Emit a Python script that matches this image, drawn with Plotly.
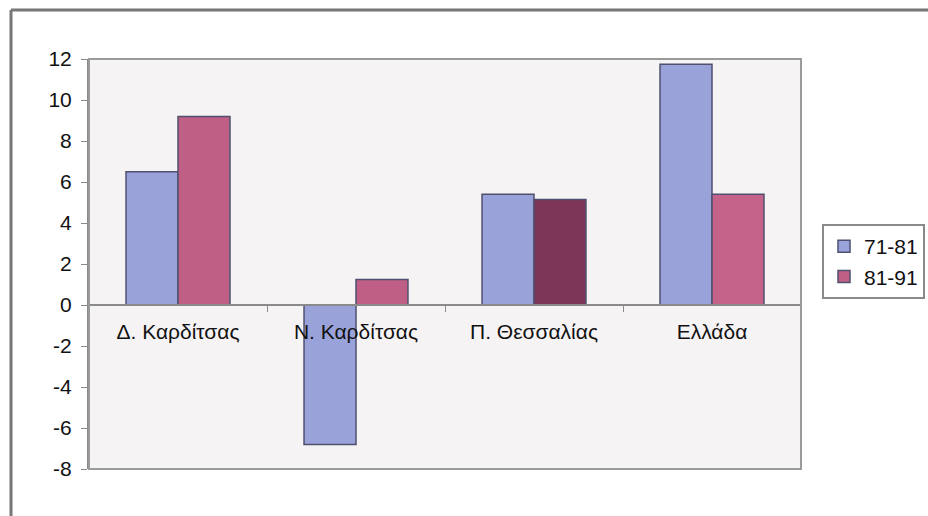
import plotly.graph_objects as go

categories = ["Δ. Καρδίτσας", "Ν. Καρδίτσας", "Π. Θεσσαλίας", "Ελλάδα"]
series_names = ["71-81", "81-91"]
values_7181 = [6.5, -6.8, 5.4, 11.75]
values_8191 = [9.2, 1.25, 5.15, 5.4]
colors_7181 = ["#9aa2da", "#9aa2da", "#9aa2da", "#9aa2da"]
colors_8191 = ["#bf5f85", "#bf5f85", "#7d3558", "#c4628a"]
y_ticks = [-8, -6, -4, -2, 0, 2, 4, 6, 8, 10, 12]
y_tick_labels = ["-8", "-6", "-4", "-2", "0", "2", "4", "6", "8", "10", "12"]
y_min, y_max = -8, 12

W, H = 928, 516
ml, mr, mt, mb = 89, 127, 59, 47
font_family = "Liberation Sans, Arial, sans-serif"
fs = 21

fig = go.Figure()
fig.add_trace(go.Bar(
    x=categories, y=values_7181, name=series_names[0],
    marker=dict(color=colors_7181, line=dict(color="#4f5070", width=1.5)),
))
fig.add_trace(go.Bar(
    x=categories, y=values_8191, name=series_names[1],
    marker=dict(color=colors_8191, line=dict(color="#4f5070", width=1.5)),
))

# x axis sits at y = 0 (Excel style)
zero_pos = (0 - y_min) / (y_max - y_min)
pw = W - ml - mr
ph = H - mt - mb

fig.update_layout(
    width=W, height=H,
    margin=dict(l=ml, r=mr, t=mt, b=mb, autoexpand=False),
    paper_bgcolor="white",
    plot_bgcolor="#f6f3f5",
    barmode="group",
    bargap=0.416,
    bargroupgap=0,
    font=dict(family=font_family, size=fs, color="#111111"),
    xaxis=dict(
        type="category",
        anchor="free", position=zero_pos,
        showline=True, linecolor="#8a8a8a", linewidth=2,
        ticks="outside", tickson="boundaries", ticklen=6, tickcolor="#8a8a8a",
        showgrid=False, zeroline=False,
        tickfont=dict(size=fs, color="#111111"),
        ticklabelstandoff=8,
    ),
    yaxis=dict(
        range=[y_min, y_max],
        tickvals=y_ticks, ticktext=y_tick_labels,
        showline=True, linecolor="#8a8a8a", linewidth=2,
        ticks="outside", ticklen=6, tickcolor="#8a8a8a",
        showgrid=False, zeroline=False,
        tickfont=dict(size=fs, color="#111111"),
        ticklabelstandoff=5,
    ),
    legend=dict(
        xref="container", yref="container",
        x=822 / W, y=1 - 224 / H, xanchor="left", yanchor="top",
        bgcolor="white", bordercolor="#8a8a8a", borderwidth=2,
        font=dict(size=fs, color="#111111"),
        itemwidth=30,
        tracegroupgap=0,
    ),
    shapes=[
        # plot area frame
        dict(type="rect", xref="paper", yref="paper", x0=0, x1=1, y0=0, y1=1,
             line=dict(color="#9a9a9a", width=2), layer="above"),
        # outer chart frame (left and top edges visible)
        dict(type="line", xref="paper", yref="paper",
             x0=(11 - ml) / pw, x1=(11 - ml) / pw,
             y0=(H - mb - (H + 5)) / ph, y1=(H - mb - 10) / ph,
             line=dict(color="#777777", width=3)),
        dict(type="line", xref="paper", yref="paper",
             x0=(11 - ml) / pw, x1=(W + 5 - ml) / pw,
             y0=(H - mb - 10) / ph, y1=(H - mb - 10) / ph,
             line=dict(color="#777777", width=3)),
    ],
)

fig.write_html(
    "out.html",
    config={"displayModeBar": False},
    post_script="document.body.style.margin='0';document.body.style.overflow='hidden';",
)
